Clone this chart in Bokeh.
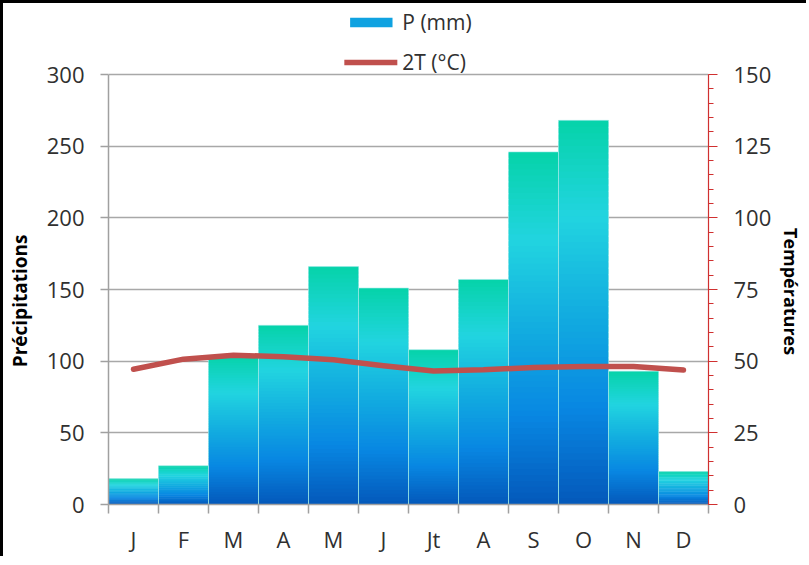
import numpy as np
from bokeh.plotting import figure
from bokeh.models import (Range1d, LinearAxis, SingleIntervalTicker, FixedTicker,
                          Legend, LegendItem, ColumnDataSource)
from bokeh.embed import file_html
from bokeh.resources import INLINE

# ---- data ----
months = ["J", "F", "M", "A", "M", "J", "Jt", "A", "S", "O", "N", "D"]
precip = [18, 27, 104, 125, 166, 151, 108, 157, 246, 268, 93, 23]
temp2 = [47.2, 50.7, 52.1, 51.5, 50.5, 48.4, 46.6, 47.0, 47.8, 48.1, 48.1, 46.9]
p_max, t_max = 300, 150          # axis maxima

# gradient stops (fraction from top of bar, colour)
grad_pos = [0.0, 0.25, 0.5, 0.75, 1.0]
grad_col = [(5, 211, 169), (34, 212, 224), (18, 173, 224), (8, 135, 226), (4, 88, 186)]

FONT = "Open Sans"
TXT = "#303030"
NB = "\u00a0"

# layout: axes occupy the lower 430 px of the frame, legend sits above them
FRAME_H, AXIS_H = 496, 430
ext = FRAME_H / AXIS_H

xc = [i + 0.5 for i in range(len(months))]

p = figure(frame_width=600, frame_height=FRAME_H, output_backend="svg", toolbar_location=None,
           x_range=Range1d(0, 12), y_range=Range1d(0, p_max * ext),
           min_border_top=5, min_border_left=10, min_border_right=5, min_border_bottom=5)
p.outline_line_color = None
p.background_fill_color = "white"
p.border_fill_color = "white"
p.styles = {"border-top": "3px solid black", "border-left": "3px solid black"}

p.extra_y_ranges = {"t": Range1d(0, t_max * ext)}

# ---- gradient bars built as overlapping thin slices ----
N = 60
sx, sb, st, sc = [], [], [], []
pos = np.array(grad_pos)
cols = np.array(grad_col, dtype=float)
for x, v in zip(xc, precip):
    for k in range(N):
        t = 1.0 - (k + 0.5) / N
        rgb = [np.interp(t, pos, cols[:, j]) for j in range(3)]
        sx.append(x)
        sb.append(v * k / N)
        st.append(min(v, v * (k + 1.8) / N))
        sc.append("#%02x%02x%02x" % tuple(int(round(c)) for c in rgb))
src = ColumnDataSource(dict(x=sx, bottom=sb, top=st, color=sc))
bars = p.vbar(x="x", bottom="bottom", top="top", width=1.0, source=src,
              fill_color="color", line_color=None)
p.vbar(x=xc, top=precip, width=1.0, fill_color=None, line_color="#9be9e6",
       line_width=1, line_alpha=0.6)

# ---- temperature line on secondary axis ----
line = p.line(x=xc, y=temp2, y_range_name="t", line_color="#C0504D", line_width=5.5,
              line_join="round", line_cap="round")

# ---- axes ----
p.xaxis.ticker = FixedTicker(ticks=xc, minor_ticks=list(range(13)))
p.xaxis.major_label_overrides = {x: m for x, m in zip(xc, months)}
p.xaxis.major_tick_line_color = None
p.xaxis.minor_tick_line_color = "#a0a0a0"
p.xaxis.minor_tick_out = 9
p.xaxis.minor_tick_in = 0
p.xaxis.minor_tick_line_width = 1.5
p.xaxis.axis_line_color = "#a0a0a0"
p.xaxis.axis_line_width = 1.5
p.xaxis.major_label_standoff = 10
p.xaxis.major_label_text_font = FONT
p.xaxis.major_label_text_font_size = "22px"
p.xaxis.major_label_text_color = TXT
p.xgrid.grid_line_color = None

p.yaxis.ticker = SingleIntervalTicker(interval=50, num_minor_ticks=0)
p.yaxis.bounds = (0, p_max)
p.yaxis.axis_line_color = "#a0a0a0"
p.yaxis.axis_line_width = 1.5
p.yaxis.major_tick_line_color = "#a0a0a0"
p.yaxis.major_tick_line_width = 1.5
p.yaxis.major_tick_out = 8
p.yaxis.major_tick_in = 0
p.yaxis.major_label_standoff = 16
p.yaxis.major_label_text_font = FONT
p.yaxis.major_label_text_font_size = "22px"
p.yaxis.major_label_text_color = TXT
p.yaxis.axis_label = "Précipitations" + NB * 18
p.yaxis.axis_label_text_font = FONT
p.yaxis.axis_label_text_font_style = "bold"
p.yaxis.axis_label_text_font_size = "19px"
p.yaxis.axis_label_text_color = "black"
p.yaxis.axis_label_standoff = 11
p.ygrid.ticker = SingleIntervalTicker(interval=50)
p.ygrid.grid_line_color = "#a8a8a8"
p.ygrid.grid_line_width = 1.5

ry = LinearAxis(y_range_name="t", ticker=SingleIntervalTicker(interval=25, num_minor_ticks=5),
                bounds=(0, t_max))
ry.axis_line_color = "#d03030"
ry.axis_line_width = 1.2
ry.major_tick_line_color = "#d03030"
ry.minor_tick_line_color = "#d03030"
ry.major_tick_out = 9
ry.major_tick_in = 0
ry.minor_tick_out = 5
ry.minor_tick_in = 0
ry.major_label_standoff = 16
ry.major_label_text_font = FONT
ry.major_label_text_font_size = "22px"
ry.major_label_text_color = TXT
ry.axis_label = NB * 15 + "Températures"
ry.axis_label_text_font = FONT
ry.axis_label_text_font_style = "bold"
ry.axis_label_text_font_size = "18px"
ry.axis_label_text_color = "black"
ry.axis_label_standoff = 5
ry.axis_label_orientation = "vertical"
p.add_layout(ry, "right")

# ---- legend ----
legend = Legend(items=[LegendItem(label="P (mm)", renderers=[bars], index=N * 9 + 25),
                       LegendItem(label="2T (°C)", renderers=[line])],
                location="top_center", orientation="vertical",
                glyph_width=53, glyph_height=12, label_height=24, spacing=12,
                padding=0, margin=0, label_standoff=5,
                label_text_font=FONT, label_text_font_size="21px", label_text_color=TXT,
                border_line_color=None, background_fill_alpha=0)
p.add_layout(legend, "center")

open("out.html", "w").write(file_html(p, INLINE))
